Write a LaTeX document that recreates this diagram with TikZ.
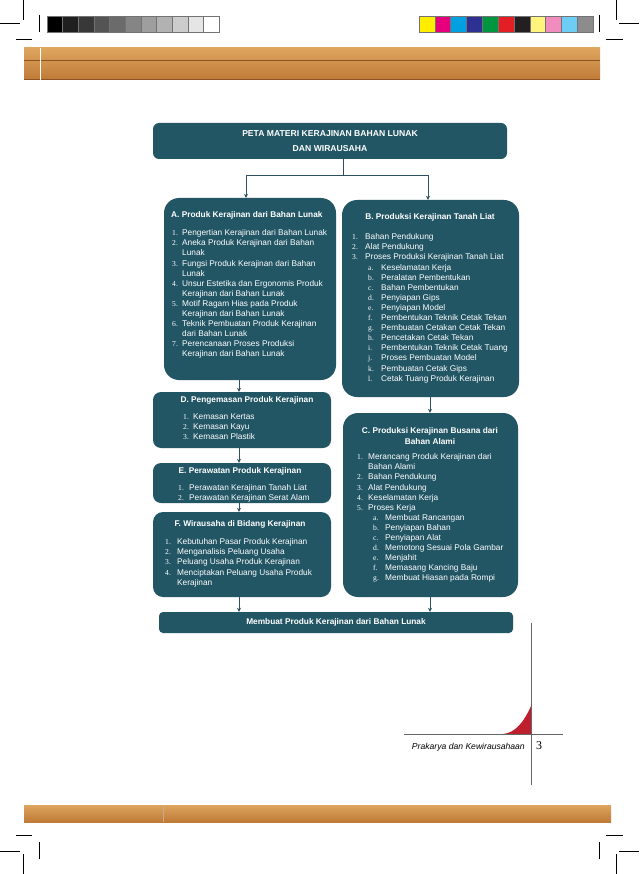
\documentclass[tikz,border=0pt]{standalone}
\usepackage{fontspec}
\setmainfont{Liberation Sans}
\newfontfamily\numfont{Liberation Serif}
\usepackage{tikz}
\usetikzlibrary{arrows.meta, positioning, calc}
\definecolor{petateal}{RGB}{34,86,101}
\definecolor{petaline}{RGB}{45,80,95}
\definecolor{woodlight}{RGB}{222,165,95}
\definecolor{wooddark}{RGB}{190,122,55}
\definecolor{woodline}{RGB}{140,85,35}
\definecolor{cornerred}{RGB}{190,30,45}
\newcommand{\nm}[2][11pt]{\makebox[#1][l]{\numfont\fontsize{7.6}{10}\selectfont #2}}
\newcommand{\ind}[1][11pt]{\hspace*{#1}}

\begin{document}
\begin{tikzpicture}[x=1pt, y=-1pt,
		box/.style={fill=petateal, text=white, inner sep=0pt},
		body/.style={text=white, inner sep=0pt, align=left, font=\fontsize{8.3}{10.1}\selectfont},
		head/.style={text=white, inner sep=0pt, align=center, font=\fontsize{8.3}{10.1}\selectfont\bfseries},
		arr/.style={-{Stealth[length=4pt, width=4pt]}, line width=0.8pt, petaline},
		crop/.style={line width=0.6pt, black}]
	\useasboundingbox[fill=white] (0,0) rectangle (639,874);
	% crop marks
	\draw[crop] (23,0) -- (23,20) (0,23) -- (20,23) (39,15) -- (39,32) (16,39) -- (32,39);
	\draw[crop] (616,0) -- (616,20) (619,23) -- (639,23) (599,15) -- (599,32) (606,39) -- (623,39);
	\draw[crop] (23,874) -- (23,854) (0,851) -- (20,851) (39,859) -- (39,842) (16,835) -- (32,835);
	\draw[crop] (616,874) -- (616,854) (619,851) -- (639,851) (599,859) -- (599,842) (606,835) -- (623,835);
	% colour bars
	\foreach \g [count=\i from 0] in {100,88,78,67,58,48,38,30,20,10,0}
		\draw[black!55, line width=0.4pt, fill=black!\g] (47+\i*15.64,16) rectangle ++(15.64,16);
	\foreach \c [count=\i from 0] in {{255,237,0},{230,0,126},{0,160,227},{46,49,146},{0,150,64},{228,30,37},{35,31,32},{255,245,125},{240,140,190},{110,205,245},{140,140,140}}
		{\definecolor{bar}{RGB}{\c}
		\draw[black!55, line width=0.4pt, fill=bar] (419+\i*15.82,16) rectangle ++(15.82,16);}
	% wood bands
	\shade[top color=woodlight, bottom color=wooddark] (24,48) rectangle (600,80);
	\draw[woodline, line width=0.8pt] (24,60) -- (600,60) (24,79) -- (600,79);
	\draw[white, line width=1pt] (40,48) -- (40,80);
	\shade[top color=woodlight, bottom color=wooddark] (24,805) rectangle (611,822);
	\draw[woodline!50, line width=0.4pt] (163,805) -- (163,822);

	% boxes
	\node[box, rounded corners=6pt, minimum width=354, minimum height=36, align=center,
		font=\fontsize{8.6}{15}\selectfont\bfseries] (peta) at (330,141)
		{PETA MATERI KERAJINAN BAHAN LUNAK\\DAN WIRAUSAHA};
	\node[box, rounded corners=15pt, minimum width=172, minimum height=182] (prodA) at (250,289) {};
	\node[box, rounded corners=15pt, minimum width=177, minimum height=197] (prodB) at (430.5,298.5) {};
	\node[box, rounded corners=8pt, minimum width=178, minimum height=56] (kemasD) at (242,420) {};
	\node[box, rounded corners=8pt, minimum width=178, minimum height=40] (rawatE) at (242,483) {};
	\node[box, rounded corners=10pt, minimum width=178, minimum height=85] (usahaF) at (242,554.5) {};
	\node[box, rounded corners=15pt, minimum width=175, minimum height=184] (busanaC) at (430.5,505) {};
	\node[box, rounded corners=4pt, minimum width=354, minimum height=21,
		font=\fontsize{8.3}{10}\selectfont\bfseries] (akhir) at (336,622.5)
		{Membuat Produk Kerajinan dari Bahan Lunak};

	% A
	\node[head, anchor=west] (prodA-t) at (171,215) {A. Produk Kerajinan dari Bahan Lunak};
	\node[body, anchor=north west] (prodA-l) at (172,229.5) {%
		\nm[10pt]{1.}Pengertian Kerajinan dari Bahan Lunak\\
		\nm[10pt]{2.}Aneka Produk Kerajinan dari Bahan\\
		\ind[10pt]Lunak\\
		\nm[10pt]{3.}Fungsi Produk Kerajinan dari Bahan\\
		\ind[10pt]Lunak\\
		\nm[10pt]{4.}Unsur Estetika dan Ergonomis Produk\\
		\ind[10pt]Kerajinan dari Bahan Lunak\\
		\nm[10pt]{5.}Motif Ragam Hias pada Produk\\
		\ind[10pt]Kerajinan dari Bahan Lunak\\
		\nm[10pt]{6.}Teknik Pembuatan Produk Kerajinan\\
		\ind[10pt]dari Bahan Lunak\\
		\nm[10pt]{7.}Perencanaan Proses Produksi\\
		\ind[10pt]Kerajinan dari Bahan Lunak};
	% B
	\node[head] (prodB-t) at (430,217) {B. Produksi Kerajinan Tanah Liat};
	\node[body, anchor=north west] (prodB-l) at (352,233.5) {%
		\nm[13pt]{1.}Bahan Pendukung\\
		\nm[13pt]{2.}Alat Pendukung\\
		\nm[13pt]{3.}Proses Produksi Kerajinan Tanah Liat\\
		\ind[16pt]\nm[13pt]{a.}Keselamatan Kerja\\
		\ind[16pt]\nm[13pt]{b.}Peralatan Pembentukan\\
		\ind[16pt]\nm[13pt]{c.}Bahan Pembentukan\\
		\ind[16pt]\nm[13pt]{d.}Penyiapan Gips\\
		\ind[16pt]\nm[13pt]{e.}Penyiapan Model\\
		\ind[16pt]\nm[13pt]{f.}Pembentukan Teknik Cetak Tekan\\
		\ind[16pt]\nm[13pt]{g.}Pembuatan Cetakan Cetak Tekan\\
		\ind[16pt]\nm[13pt]{h.}Pencetakan Cetak Tekan\\
		\ind[16pt]\nm[13pt]{i.}Pembentukan Teknik Cetak Tuang\\
		\ind[16pt]\nm[13pt]{j.}Proses Pembuatan Model\\
		\ind[16pt]\nm[13pt]{k.}Pembuatan Cetak Gips\\
		\ind[16pt]\nm[13pt]{l.}Cetak Tuang Produk Kerajinan};
	% D
	\node[head] (kemasD-t) at (247,400) {D. Pengemasan Produk Kerajinan};
	\node[body, anchor=north west] (kemasD-l) at (183,413.5) {%
		\nm[10pt]{1.}Kemasan Kertas\\
		\nm[10pt]{2.}Kemasan Kayu\\
		\nm[10pt]{3.}Kemasan Plastik};
	% E
	\node[head] (rawatE-t) at (240,471) {E. Perawatan Produk Kerajinan};
	\node[body, anchor=north west] (rawatE-l) at (178,484.5) {%
		\nm[11pt]{1.}Perawatan Kerajinan Tanah Liat\\
		\nm[11pt]{2.}Perawatan Kerajinan Serat Alam};
	% F
	\node[head] (usahaF-t) at (240,524) {F. Wirausaha di Bidang Kerajinan};
	\node[body, anchor=north west] (usahaF-l) at (165,538.5) {%
		\nm[12pt]{1.}Kebutuhan Pasar Produk Kerajinan\\
		\nm[12pt]{2.}Menganalisis Peluang Usaha\\
		\nm[12pt]{3.}Peluang Usaha Produk Kerajinan\\
		\nm[12pt]{4.}Menciptakan Peluang Usaha Produk\\
		\ind[12pt]Kerajinan};
	% C
	\node[head] (busanaC-t) at (430,436) {C. Produksi Kerajinan Busana dari\\Bahan Alami};
	\node[body, anchor=north west] (busanaC-l) at (357,453.5) {%
		\nm[11pt]{1.}Merancang Produk Kerajinan dari\\
		\ind[11pt]Bahan Alami\\
		\nm[11pt]{2.}Bahan Pendukung\\
		\nm[11pt]{3.}Alat Pendukung\\
		\nm[11pt]{4.}Keselamatan Kerja\\
		\nm[11pt]{5.}Proses Kerja\\
		\ind[16pt]\nm[12pt]{a.}Membuat Rancangan\\
		\ind[16pt]\nm[12pt]{b.}Penyiapan Bahan\\
		\ind[16pt]\nm[12pt]{c.}Penyiapan Alat\\
		\ind[16pt]\nm[12pt]{d.}Memotong Sesuai Pola Gambar\\
		\ind[16pt]\nm[12pt]{e.}Menjahit\\
		\ind[16pt]\nm[12pt]{f.}Memasang Kancing Baju\\
		\ind[16pt]\nm[12pt]{g.}Membuat Hiasan pada Rompi};

	% connectors
	\coordinate (jn) at (343,175);
	\coordinate (jl) at (246,175);
	\coordinate (jr) at (428,175);
	\coordinate (lcol) at (239,0);
	\coordinate (rcol) at (430,0);
	\draw[petaline, line width=0.8pt] (peta.south -| jn) -- (jn);
	\draw[petaline, line width=0.8pt] (jl) -- (jr);
	\draw[arr] (jl) -- (jl |- prodA.north);
	\draw[arr] (jr) -- (jr |- prodB.north);
	\draw[arr] (prodA.south -| lcol) -- (kemasD.north -| lcol);
	\draw[arr] (kemasD.south -| lcol) -- (rawatE.north -| lcol);
	\draw[arr] (rawatE.south -| lcol) -- (usahaF.north -| lcol);
	\draw[arr] (usahaF.south -| lcol) -- (akhir.north -| lcol);
	\draw[arr] (prodB.south -| rcol) -- (busanaC.north -| rcol);
	\draw[arr] (busanaC.south -| rcol) -- (akhir.north -| rcol);

	% page corner
	\fill[cornerred] (503,734) .. controls (515,733) and (524,722) .. (531,706) -- (531,734) -- cycle;
	\draw[black!60, line width=0.8pt] (531,623) -- (531,785);
	\draw[black!60, line width=0.8pt] (404,734) -- (563,734);
	\node[anchor=east, inner sep=0pt, font=\fontsize{8.6}{10}\selectfont\itshape] (buku) at (525,747) {Prakarya dan Kewirausahaan};
	\node[anchor=west, inner sep=0pt, font=\numfont\fontsize{12}{12}\selectfont] (hal) at (536,746) {3};
\end{tikzpicture}
\end{document}
